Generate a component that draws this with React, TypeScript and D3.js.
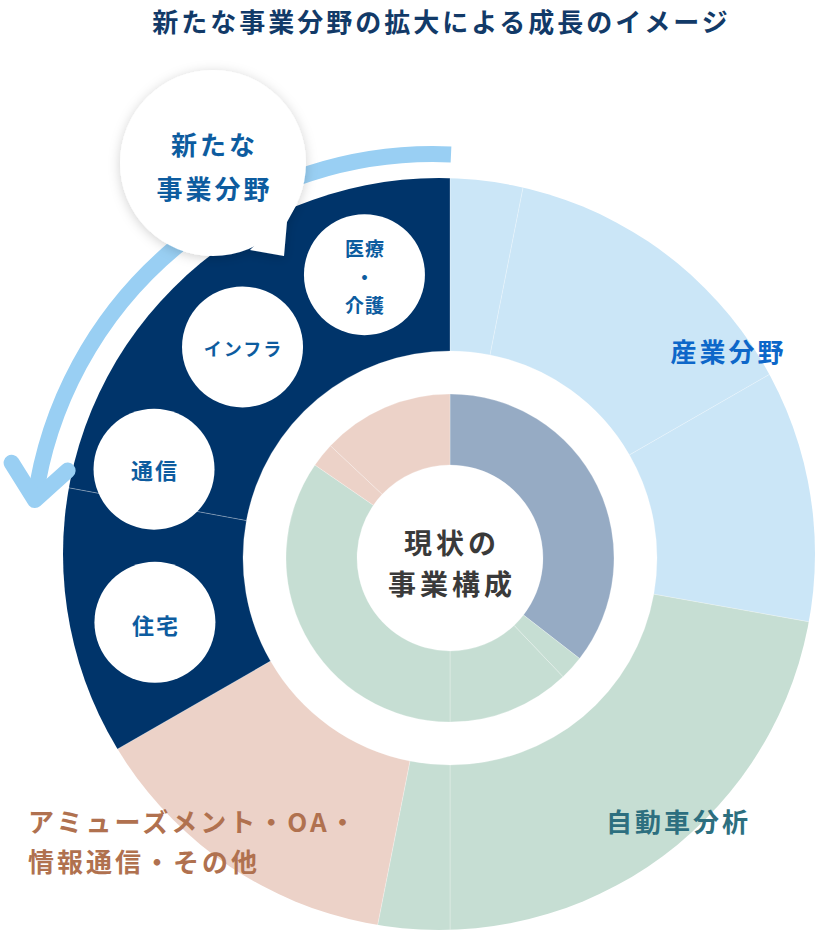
import React from 'react'
import * as d3 from 'd3'

// outer ring: after expansion (clockwise from 12 o'clock)
const outerLabels = ['産業分野', '産業分野', '産業分野', '自動車分析', '自動車分析', 'アミューズメント', '新たな事業分野', '新たな事業分野']
const outerValues = [3.1, 13.6, 11.1, 22.2, 3.1, 13.6, 11.2, 22.1]
// inner ring: current composition
const innerLabels = ['産業分野', '自動車分析', '自動車分析', '自動車分析', 'アミューズメント', 'アミューズメント']
const innerValues = [35.5, 2.4, 12.1, 34.6, 2.4, 13.0]
// new business fields shown in the navy band
const newFields = [['医療', '・', '介護'], ['インフラ'], ['通信'], ['住宅']]
const title = '新たな事業分野の拡大による成長のイメージ'

const FONT = '"Noto Sans CJK JP", "Noto Sans", sans-serif'
const W = 816, H = 932
const cx = 450, cy = 558

const outerColor = d3.scaleOrdinal<string, string>()
  .domain(['産業分野', '自動車分析', 'アミューズメント', '新たな事業分野'])
  .range(['#cbe6f7', '#c6ded3', '#ecd2c8', '#00346a'])
const innerColor = d3.scaleOrdinal<string, string>()
  .domain(['産業分野', '自動車分析', 'アミューズメント'])
  .range(['#96abc4', '#c6ded3', '#ecd2c8'])

// layout of the white circles in the navy band (angle deg from top, radius)
const fieldPos = [
  { a: 343.2, r: 296, size: 19, ls: 1, dy: [-27, 2, 30] },
  { a: 315.5, r: 296, size: 18, ls: 2, dy: [1] },
  { a: 286.7, r: 309, size: 22, ls: 2, dy: [0] },
  { a: 257.7, r: 302, size: 22, ls: 2, dy: [2] },
]

const rad = (deg: number) => deg * Math.PI / 180

const Txt = ({ x, y, size, color, ls = 0, anchor = 'middle', children }: any) => (
  <text x={anchor === 'middle' ? x + ls / 2 : x} y={y} fontSize={size} fill={color} fontWeight={700}
    fontFamily={FONT} letterSpacing={ls} textAnchor={anchor} dominantBaseline="central">{children}</text>
)

export default function App() {
  const pie = d3.pie<number>().sort(null).value(d => d)
  const outerArcs = pie(outerValues)
  const innerArcs = pie(innerValues)
  const outerArc = d3.arc<d3.PieArcDatum<number>>().innerRadius(207).outerRadius(430)
  const innerArc = d3.arc<d3.PieArcDatum<number>>().innerRadius(93).outerRadius(164)

  // curved arrow, counter-clockwise from the top
  const ac = { x: 433, y: 556 }, ar = 402
  const a0 = Math.asin((451 - ac.x) / ar), a1 = rad(-82)
  const p = d3.path()
  p.moveTo(ac.x + ar * Math.sin(a0), ac.y - ar * Math.cos(a0))
  p.arc(ac.x, ac.y, ar, a0 - Math.PI / 2, a1 - Math.PI / 2, true)
  const tip = [ac.x + ar * Math.sin(a1), ac.y - ar * Math.cos(a1)]
  const bk = Math.atan2(Math.sin(a1), Math.cos(a1)) // pointing back along the arc
  const armLen = 44, spread = rad(40)
  const arm1 = [tip[0] + armLen * Math.cos(bk + spread), tip[1] + armLen * Math.sin(bk + spread)]
  const arm2 = [tip[0] + armLen * Math.cos(bk - spread), tip[1] + armLen * Math.sin(bk - spread)]
  const head = `M${arm1[0]},${arm1[1]}L${tip[0]},${tip[1]}L${arm2[0]},${arm2[1]}`

  return (
    <div style={{ position: 'absolute', left: 0, top: 0 }}>
      <svg width={W} height={H} viewBox={`0 0 ${W} ${H}`}>
        <defs>
          <clipPath id="outerClip"><circle cx={439} cy={554} r={376} /></clipPath>
          <filter id="shadow" x="-30%" y="-30%" width="160%" height="160%">
            <feDropShadow dx="0" dy="2" stdDeviation="6" floodColor="#000" floodOpacity="0.18" />
          </filter>
        </defs>
        <rect width={W} height={H} fill="#fff" />

        <Txt x={440} y={20} size={26} color="#123a68" ls={3}>{title}</Txt>

        <g clipPath="url(#outerClip)">
          <g transform={`translate(${cx},${cy})`}>
            {outerArcs.map((d, i) => (
              <path key={i} d={outerArc(d) || ''} fill={outerColor(outerLabels[i])}
                stroke="#ffffff" strokeOpacity={0.35} strokeWidth={0.7} />
            ))}
          </g>
        </g>

        <g transform={`translate(${cx},${cy})`}>
          {innerArcs.map((d, i) => (
            <path key={i} d={innerArc(d) || ''} fill={innerColor(innerLabels[i])}
              stroke="#ffffff" strokeOpacity={0.35} strokeWidth={0.7} />
          ))}
        </g>

        <path d={p.toString()} fill="none" stroke="#99cff3" strokeWidth={16} />
        <path d={head} fill="none" stroke="#99cff3" strokeWidth={16} strokeLinecap="round" strokeLinejoin="round" />

        <g filter="url(#shadow)">
          <circle cx={213} cy={163} r={93} fill="#fff" />
          <path d="M298,202L287,222L284,256L250,250Z" fill="#fff" />
        </g>
        <Txt x={213} y={143} size={26} color="#0d5c9f" ls={3}>新たな</Txt>
        <Txt x={213} y={187} size={26} color="#0d5c9f" ls={3}>事業分野</Txt>

        {newFields.map((lines, i) => {
          const f = fieldPos[i]
          const x = cx + f.r * Math.sin(rad(f.a)), y = cy - f.r * Math.cos(rad(f.a))
          return (
            <g key={i}>
              <circle cx={x} cy={y} r={60.5} fill="#fff" />
              {lines.map((t, j) => (
                <Txt key={j} x={x} y={y + f.dy[j]} size={f.size} color="#0d5c9f" ls={f.ls}>{t}</Txt>
              ))}
            </g>
          )
        })}

        <Txt x={450} y={542} size={28} color="#3a3a3a" ls={4}>現状の</Txt>
        <Txt x={450} y={583} size={28} color="#3a3a3a" ls={4}>事業構成</Txt>

        <Txt x={727} y={350} size={26} color="#0d67c9" ls={3}>産業分野</Txt>
        <Txt x={677} y={820} size={26} color="#2d6f7f" ls={3}>自動車分析</Txt>
        <Txt x={28} y={820} size={26} color="#b0714f" ls={3} anchor="start">アミューズメント・OA・</Txt>
        <Txt x={28} y={860} size={26} color="#b0714f" ls={3} anchor="start">情報通信・その他</Txt>
      </svg>
    </div>
  )
}
